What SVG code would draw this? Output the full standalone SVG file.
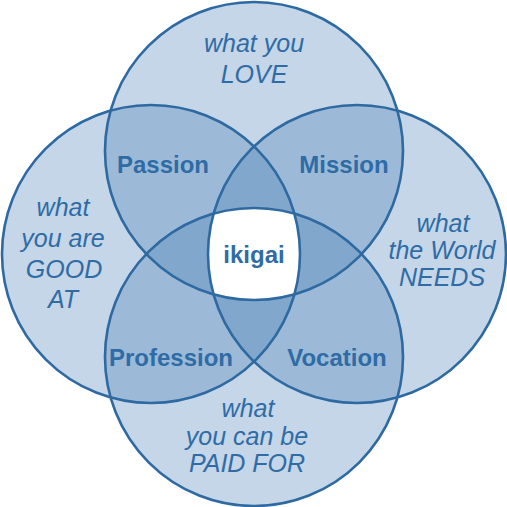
<svg xmlns="http://www.w3.org/2000/svg" width="507" height="507" viewBox="0 0 507 507">
<style>
.fill{fill:#477fb7;fill-opacity:0.32;stroke:none}
.ring{fill:none;stroke:#2e6aa1;stroke-width:2.6}
.it{font-family:"Liberation Sans",Arial,sans-serif;font-style:italic;font-size:25px;fill:#2f6ca5;text-anchor:middle}
.bd{font-family:"Liberation Sans",Arial,sans-serif;font-weight:bold;font-size:24px;fill:#2f6ca5;text-anchor:middle}
</style>
<defs>
<clipPath id="cT"><circle cx="254" cy="151" r="149"/></clipPath>
<clipPath id="cB"><circle cx="254" cy="357" r="149"/></clipPath>
<clipPath id="cL"><circle cx="151" cy="254" r="149"/></clipPath>
<clipPath id="cR"><circle cx="357" cy="254" r="149"/></clipPath>
</defs>
<rect width="507" height="507" fill="#ffffff"/>
<g id="fills">
<circle class="fill" cx="254" cy="151" r="149"/>
<circle class="fill" cx="254" cy="357" r="149"/>
<circle class="fill" cx="151" cy="254" r="149"/>
<circle class="fill" cx="357" cy="254" r="149"/>
</g>
<g id="center-area" clip-path="url(#cT)"><g clip-path="url(#cB)"><g clip-path="url(#cL)"><rect x="0" y="0" width="507" height="507" fill="#ffffff" clip-path="url(#cR)"/></g></g></g>
<g id="love">
<circle class="ring" cx="254" cy="151" r="149"/>
<text class="it" x="254" y="52">what you</text>
<text class="it" x="254" y="83">LOVE</text>
</g>
<g id="good">
<circle class="ring" cx="151" cy="254" r="149"/>
<text class="it" x="63" y="216">what</text>
<text class="it" x="63" y="247">you are</text>
<text class="it" x="64" y="278">GOOD</text>
<text class="it" x="63" y="308">AT</text>
</g>
<g id="needs">
<circle class="ring" cx="357" cy="254" r="149"/>
<text class="it" x="443" y="232">what</text>
<text class="it" x="442" y="259">the World</text>
<text class="it" x="442" y="286">NEEDS</text>
</g>
<g id="paid">
<circle class="ring" cx="254" cy="357" r="149"/>
<text class="it" x="248" y="417">what</text>
<text class="it" x="247" y="445">you can be</text>
<text class="it" x="247" y="472">PAID FOR</text>
</g>
<g id="passion"><text class="bd" x="163" y="173">Passion</text></g>
<g id="mission"><text class="bd" x="344" y="173">Mission</text></g>
<g id="profession"><text class="bd" x="171" y="366">Profession</text></g>
<g id="vocation"><text class="bd" x="337" y="366">Vocation</text></g>
<g id="ikigai"><text class="bd" x="254" y="263">ikigai</text></g>
</svg>
